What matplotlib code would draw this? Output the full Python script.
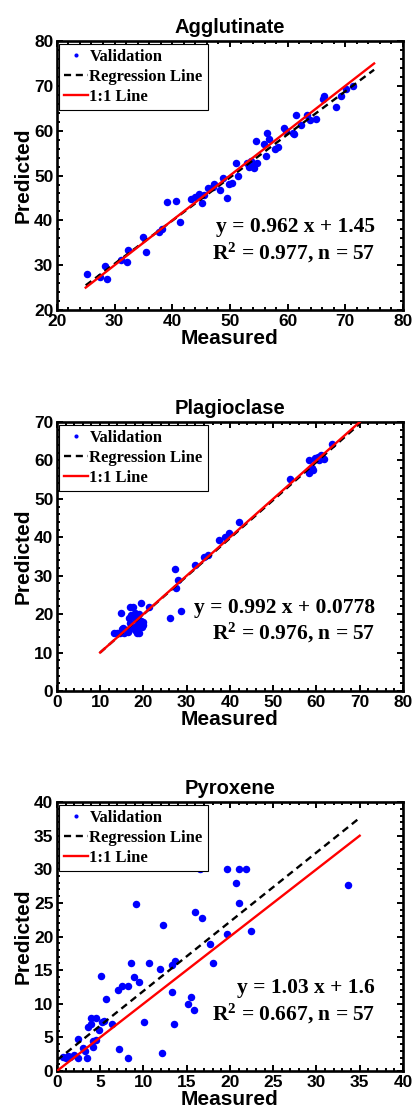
import matplotlib
matplotlib.use("Agg")
import matplotlib.pyplot as plt
import numpy as np
from matplotlib.ticker import AutoMinorLocator

# Agglutinate: measured vs predicted
aggl_meas = [25.2, 27.4, 28.4, 28.7, 31.2, 32.1, 32.3, 34.9, 35.5, 37.7, 38.2, 39.1,
             40.7, 41.3, 43.2, 44.6, 45.1, 45.5, 46.2, 47.3, 48.2, 48.8, 49.5, 49.8,
             50.3, 51.0, 51.4, 52.9, 53.3, 53.6, 54.1, 54.7, 54.6, 55.9, 56.2, 56.5,
             56.8, 57.9, 58.3, 59.3, 59.8, 60.9, 61.2, 61.5, 62.4, 63.4, 63.9, 64.9,
             66.1, 66.4, 68.4, 69.2, 70.2, 71.3, 53.8, 47.0, 44.0]
aggl_pred = [28.1, 27.3, 29.8, 27.0, 31.1, 30.8, 33.3, 36.2, 33.0, 37.5, 38.1, 44.1,
             44.4, 39.7, 44.7, 45.9, 43.9, 45.6, 47.2, 48.2, 46.8, 49.4, 44.9, 48.2,
             48.4, 52.7, 50.0, 52.9, 52.0, 53.3, 51.6, 52.7, 57.8, 57.1, 54.4, 59.4,
             58.1, 55.9, 56.3, 60.7, 59.9, 59.4, 59.3, 63.5, 61.3, 63.5, 62.3, 62.7,
             67.0, 67.8, 65.2, 67.8, 69.4, 70.0, 52.1, 47.5, 45.2]

# Plagioclase
plag_meas = [13.3, 13.9, 14.9, 15.3, 15.6, 16.4, 16.6, 17.0, 17.4, 17.7, 18.0, 18.2,
             18.5, 18.9, 19.4, 19.5, 19.7, 19.1, 21.3, 26.2, 27.2, 27.6, 28.0, 28.6,
             32.0, 34.1, 35.0, 37.4, 38.8, 39.8, 42.1, 54.0, 58.2, 58.4, 59.0, 59.6,
             60.3, 60.7, 61.1, 61.7, 63.7, 16.0, 17.2, 18.4, 19.0, 15.0, 16.8, 18.8,
             19.8, 17.8, 60.0, 59.2, 61.4, 14.5, 18.1, 16.2, 20.0]
plag_pred = [15.0, 15.0, 20.3, 16.4, 15.0, 15.3, 19.0, 21.8, 16.6, 21.9, 20.2, 18.7,
             15.0, 17.5, 23.0, 18.3, 16.6, 15.0, 21.8, 18.9, 31.8, 26.7, 28.8, 20.9,
             32.7, 34.8, 35.4, 39.4, 40.2, 41.1, 43.9, 55.3, 56.8, 60.0, 58.0, 60.7,
             61.0, 60.0, 61.3, 60.3, 64.3, 16.0, 19.8, 17.0, 20.0, 16.2, 17.8, 15.8,
             18.0, 19.2, 60.5, 57.5, 60.8, 15.2, 16.0, 15.5, 17.2]

# Pyroxene
pyro_meas = [0.7, 1.3, 1.5, 2.5, 2.5, 3.0, 3.5, 3.6, 3.9, 4.2, 4.2, 4.5, 4.9, 5.1,
             5.2, 5.7, 6.4, 7.1, 7.2, 7.5, 8.2, 8.2, 8.6, 8.9, 9.5, 10.1, 10.7, 11.9,
             12.1, 12.3, 13.3, 13.3, 13.5, 13.6, 15.1, 15.5, 15.8, 16.0, 16.8, 17.7,
             18.0, 19.7, 22.4, 9.2, 16.5, 19.65, 20.65, 21.1, 21.1, 21.9, 33.6,
             2.0, 3.2, 4.5, 5.5, 1.0, 4.0]
pyro_pred = [2.1, 2.3, 2.1, 2.0, 4.8, 3.5, 2.0, 6.6, 7.9, 3.6, 4.4, 7.9, 6.1, 14.2,
             7.3, 10.7, 7.0, 12.1, 3.3, 12.6, 12.7, 2.0, 16.0, 14.0, 13.3, 7.3, 16.0,
             15.2, 2.7, 21.7, 11.7, 15.8, 7.0, 16.3, 10.0, 11.0, 9.1, 23.6, 22.8, 18.9,
             16.0, 20.4, 20.8, 24.9, 30.0, 30.0, 27.9, 25.0, 30.0, 30.0, 27.6,
             2.4, 3.0, 4.6, 7.4, 1.9, 7.0]

titles = ["Agglutinate", "Plagioclase", "Pyroxene"]
slopes = [0.962, 0.992, 1.03]
intercepts = [1.45, 0.0778, 1.6]
eq_text = ["y = 0.962 x + 1.45", "y = 0.992 x + 0.0778", "y = 1.03 x + 1.6"]
r2_text = [r"R$^{2}$ = 0.977, n = 57", r"R$^{2}$ = 0.976, n = 57", r"R$^{2}$ = 0.667, n = 57"]
line_ranges = [(25, 75), (10, 70), (0, 35)]
xlims = [(20, 80), (0, 80), (0, 40)]
ylims = [(20, 80), (0, 70), (0, 40)]
xticks = [np.arange(20, 81, 10), np.arange(0, 81, 10), np.arange(0, 41, 5)]
yticks = [np.arange(20, 81, 10), np.arange(0, 71, 10), np.arange(0, 41, 5)]

plt.rcParams["mathtext.fontset"] = "custom"
plt.rcParams["mathtext.rm"] = "Liberation Serif:bold"
plt.rcParams["mathtext.it"] = "Liberation Serif:bold"
plt.rcParams["mathtext.bf"] = "Liberation Serif:bold"

sans = "Liberation Sans"
serif = "Liberation Serif"

fig = plt.figure(figsize=(4.12, 11.10), dpi=100)
bottoms = [0.7207, 0.3775, 0.0351]
data = [(aggl_meas, aggl_pred), (plag_meas, plag_pred), (pyro_meas, pyro_pred)]

for i in range(3):
    ax = fig.add_axes([0.138, bottoms[i], 0.840, 0.2423])
    xm, yp = data[i]
    ax.plot(xm, yp, linestyle="none", marker="o", markersize=5.4,
            color="#0000ff", markeredgewidth=0, label="Validation", zorder=2)
    x0, x1 = line_ranges[i]
    xs = np.array([x0, x1])
    ax.plot(xs, slopes[i] * xs + intercepts[i], "--", color="black", lw=1.7,
            dashes=(3, 2), label="Regression Line", zorder=3)
    ax.plot(xs, xs, "-", color="#ff0000", lw=1.7, label="1:1 Line", zorder=4)

    ax.set_xlim(xlims[i])
    ax.set_ylim(ylims[i])
    ax.set_xticks(xticks[i])
    ax.set_yticks(yticks[i])
    ax.xaxis.set_minor_locator(AutoMinorLocator(5))
    ax.yaxis.set_minor_locator(AutoMinorLocator(5))
    ax.tick_params(which="both", direction="in", top=True, right=True, width=1.4)
    ax.tick_params(which="major", length=4, labelsize=12.5)
    ax.tick_params(axis="y", which="major", pad=2.5)
    ax.tick_params(axis="x", which="major", pad=3)
    ax.tick_params(which="minor", length=2)
    for lab in ax.get_xticklabels() + ax.get_yticklabels():
        lab.set_fontfamily(sans)
        lab.set_fontweight("bold")
    for sp in ax.spines.values():
        sp.set_linewidth(1.9)

    ax.set_title(titles[i], fontsize=14.5, fontweight="bold", family=sans, pad=6)
    ax.set_xlabel("Measured", fontsize=15, fontweight="bold", family=sans, labelpad=0)
    ax.set_ylabel("Predicted", fontsize=15, fontweight="bold", family=sans, labelpad=1)

    leg = ax.legend(loc="upper left", prop={"family": serif, "weight": "bold", "size": 12},
                    frameon=True, fancybox=False, edgecolor="black", framealpha=1,
                    borderaxespad=0.15, handlelength=1.4, handletextpad=0.1,
                    labelspacing=0.25, borderpad=0.3, markerscale=0.55)
    leg.get_frame().set_linewidth(0.8)

    ax.text(0.92, 0.29, eq_text[i], transform=ax.transAxes, ha="right", va="baseline",
            fontsize=15.5, fontweight="bold", family=serif)
    ax.text(0.92, 0.19, r2_text[i], transform=ax.transAxes, ha="right", va="baseline",
            fontsize=15.5, fontweight="bold", family=serif)

plt.savefig("out.png", dpi=100)
